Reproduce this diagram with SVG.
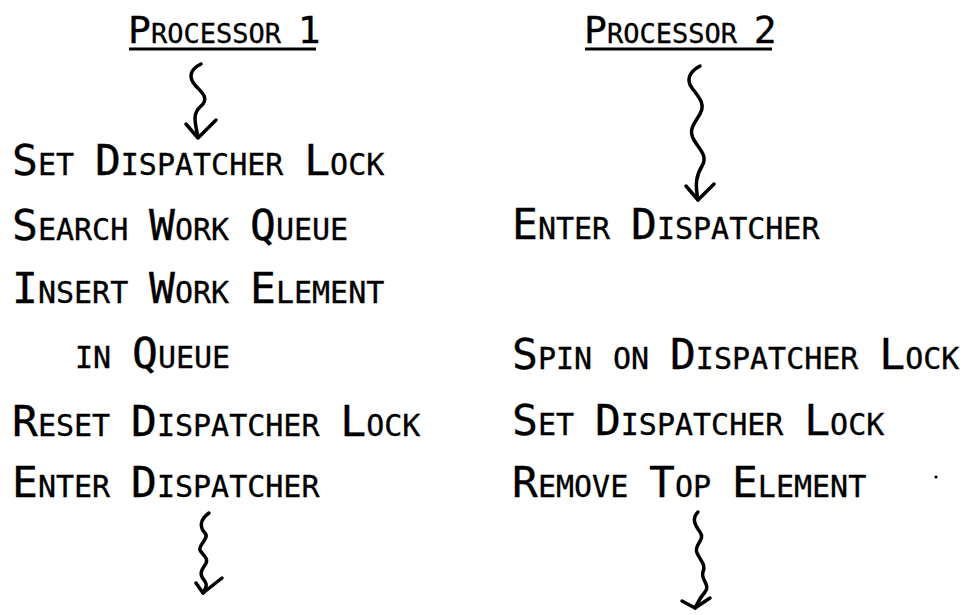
<svg xmlns="http://www.w3.org/2000/svg" width="970" height="615" viewBox="0 0 970 615">
<style>
text{font-family:"DejaVu Sans Mono","Liberation Mono",monospace;font-size:43px;font-variant:small-caps;fill:#000;stroke:#000;stroke-width:0.35;word-spacing:-5px}
text.t{font-size:38px;word-spacing:-6px}
.ul{stroke:#000;stroke-width:3;fill:none}
.sq{stroke:#000;stroke-width:3.5;fill:none;stroke-linecap:round;stroke-linejoin:round}
</style>
<rect width="970" height="615" fill="#fff"/>
<g id="title-p1"><text class="t" x="128" y="43">Processor 1</text><line class="ul" x1="129" y1="49" x2="316" y2="49"/></g>
<g id="title-p2"><text class="t" x="584" y="43">Processor 2</text><line class="ul" x1="585" y1="49" x2="772" y2="49"/></g>
<g id="p1-steps">
<text x="12" y="175">Set Dispatcher Lock</text>
<text x="12" y="240">Search Work Queue</text>
<text x="12" y="303">Insert Work Element</text>
<text x="75" y="368">in Queue</text>
<text x="12" y="436">Reset Dispatcher Lock</text>
<text x="12" y="497">Enter Dispatcher</text>
</g>
<g id="p2-steps">
<text x="512" y="239">Enter Dispatcher</text>
<text x="512" y="369">Spin on Dispatcher Lock</text>
<text x="512" y="435">Set Dispatcher Lock</text>
<text x="512" y="497">Remove Top Element</text>
</g>
<g id="connectors">
<path class="sq" d="M201,64 C189,70 189,78 195,85 S210,98 201,106 S195,122 198,137"/>
<path class="sq" d="M186,124 L198,138 L216,120"/>
<path class="sq" d="M700,66 C689,72 686,80 692,88 S706,104 700,114 S688,130 694,140 S708,156 702,166 S695,184 698,200"/>
<path class="sq" d="M686,186 L698,200 L714,184"/>
<path class="sq" d="M209,513 C199,520 200,528 205,533 S198,545 200,550 S210,558 205,565 S200,575 204,580 S206,588 203,593"/>
<path class="sq" d="M196,583 L203,593 L222,578"/>
<path class="sq" d="M698,512 C692,518 694,524 700,532 S693,545 697,553 S706,565 703,572 S711,585 705,592 S698,602 695,608"/>
<path class="sq" d="M682,601 L695,608 L710,598"/>
</g>
<circle cx="936" cy="477" r="1.6" fill="#000"/>
</svg>
